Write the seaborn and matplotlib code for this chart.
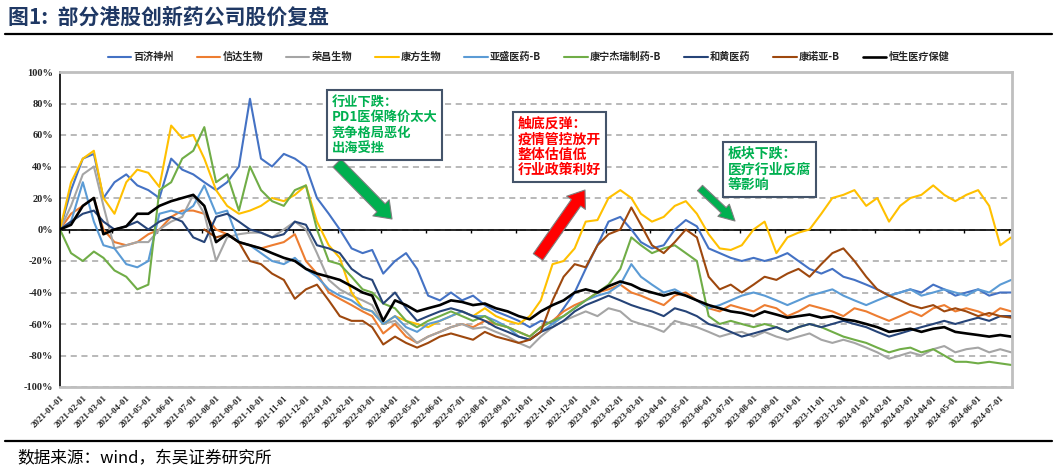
import numpy as np
import pandas as pd
import matplotlib
matplotlib.use('Agg')
import matplotlib.pyplot as plt
import matplotlib.dates as mdates
from matplotlib.ticker import FuncFormatter
import seaborn as sns

sns.set_style('white')
plt.rcParams['font.family'] = ['Noto Sans CJK SC', 'DejaVu Sans']

# 半月取点：每月1日、16日（2021-01 ~ 2024-07）
dates = [pd.Timestamp(2021 + m // 12, m % 12 + 1, d) for m in range(43) for d in (1, 16)]

names = ['百济神州', '信达生物', '荣昌生物', '康方生物', '亚盛医药-B',
         '康宁杰瑞制药-B', '和黄医药', '康诺亚-B', '恒生医疗保健']
colors = ['#4472C4', '#ED7D31', '#A5A5A5', '#FFC000', '#5B9BD5',
          '#70AD47', '#264478', '#9E480E', '#000000']

baiji = [0, 25, 45, 48, 20, 30, 35, 28, 25, 20,
         45, 38, 35, 30, 25, 30, 40, 83, 45, 40,
         48, 45, 40, 20, 10, 0, -12, -15, -13, -28,
         -20, -15, -25, -42, -45, -40, -45, -42, -48, -52,
         -55, -58, -62, -58, -60, -50, -40, -25, -10, 5,
         8, 0, -8, -12, -10, 0, 6, 2, -12, -15,
         -18, -20, -18, -20, -18, -15, -20, -25, -28, -25,
         -30, -32, -35, -38, -42, -40, -38, -40, -35, -38,
         -42, -40, -38, -42, -40, -40]
xinda = [0, 10, 15, 20, 0, -8, -10, -8, -3, 0,
         8, 12, 12, 10, 0, -3, -8, -10, -12, -10,
         -8, -3, -20, -28, -40, -44, -48, -52, -55, -66,
         -60, -68, -72, -68, -65, -62, -60, -62, -58, -60,
         -62, -65, -68, -62, -58, -52, -48, -45, -40, -38,
         -35, -40, -42, -45, -48, -42, -40, -45, -50, -52,
         -48, -50, -52, -48, -50, -55, -52, -48, -50, -52,
         -55, -50, -52, -55, -58, -55, -52, -55, -50, -48,
         -52, -50, -52, -55, -50, -52]
rongchang = [0, 15, 35, 40, 15, -12, -10, -8, -8, 0,
             5, 8, 22, 10, -20, -5, -3, -2, -2, -5,
             0, 5, 0, -15, -32, -38, -42, -45, -48, -60,
             -58, -65, -72, -68, -65, -62, -60, -63, -62, -65,
             -68, -72, -75, -68, -62, -58, -55, -52, -55, -50,
             -52, -58, -60, -62, -65, -58, -60, -62, -65, -68,
             -66, -65, -68, -65, -68, -70, -68, -66, -70, -72,
             -70, -72, -75, -78, -82, -80, -78, -80, -76, -74,
             -78, -76, -75, -78, -76, -78]
kangfang = [0, 30, 45, 50, 20, 10, 30, 38, 36, 27,
            66, 58, 60, 45, 25, 15, 10, 12, 15, 20,
            18, 22, 28, 5, -10, -18, -40, -50, -52, -60,
            -55, -58, -60, -62, -58, -55, -52, -55, -50, -55,
            -58, -60, -55, -45, -22, -20, -12, 5, 6, 20,
            25, 20, 10, 5, 8, 15, 18, 10, -3, -12,
            -13, -10, 0, 5, -15, -5, -2, 0, 10, 20,
            22, 25, 15, 20, 5, 15, 20, 22, 28, 22,
            18, 22, 25, 15, -10, -5]
yasheng = [0, 5, 30, 5, -10, -12, -22, -24, -20, 10,
           12, 10, 15, 28, 10, 12, -8, -10, -15, -20,
           -22, -18, -25, -30, -38, -42, -45, -50, -52, -60,
           -55, -62, -65, -60, -58, -55, -52, -55, -55, -58,
           -62, -68, -70, -65, -60, -55, -50, -45, -42, -40,
           -35, -22, -30, -35, -40, -38, -42, -45, -50, -48,
           -45, -42, -40, -42, -45, -48, -45, -42, -40, -38,
           -42, -45, -48, -45, -42, -40, -38, -42, -40, -38,
           -40, -42, -38, -40, -35, -32]
kangning = [0, -15, -20, -14, -18, -26, -30, -38, -35, 25,
            30, 45, 50, 65, 30, 35, 12, 40, 25, 18,
            15, 25, 28, 0, -20, -22, -30, -38, -40, -47,
            -50, -58, -62, -58, -55, -52, -55, -58, -55, -60,
            -62, -65, -68, -62, -58, -55, -50, -45, -40, -35,
            -25, -5, -10, -15, -12, -10, -15, -20, -55, -60,
            -58, -60, -62, -60, -62, -65, -62, -60, -62, -65,
            -68, -70, -72, -75, -78, -76, -75, -78, -76, -80,
            -84, -84, -85, -84, -85, -86]
hehuang = [0, 5, 10, 12, 5, 0, 2, 5, 0, 5,
           8, 5, -5, -8, 8, 10, 5, 0, -2, -5,
           -3, 5, 3, -10, -12, -15, -25, -30, -32, -47,
           -40, -50, -58, -55, -52, -50, -52, -55, -58, -62,
           -65, -68, -70, -65, -62, -58, -52, -48, -45, -42,
           -45, -48, -50, -52, -55, -50, -52, -55, -60, -62,
           -65, -68, -66, -64, -62, -65, -62, -60, -62, -60,
           -58, -60, -62, -65, -68, -66, -64, -62, -60, -58,
           -60, -58, -56, -58, -55, -55]
kangnuoya = [np.nan] * 13 + [
             0, -5, -3, -8, -20, -22, -28,
             -32, -44, -38, -35, -45, -55, -58, -58, -62, -73,
             -68, -72, -75, -72, -68, -66, -68, -70, -65, -68,
             -70, -72, -70, -65, -45, -30, -22, -24, -10, -3,
             0, 14, 3, -10, -15, -8, 0, -5, -30, -38,
             -35, -40, -35, -30, -32, -28, -25, -30, -22, -15,
             -12, -20, -30, -38, -42, -45, -48, -50, -48, -52,
             -50, -52, -55, -53, -55, -56]
hengsheng = [0, 3, 15, 20, -3, 0, 2, 10, 10, 15,
             18, 20, 22, 15, -8, -3, -8, -10, -12, -15,
             -18, -20, -25, -28, -30, -32, -36, -40, -42, -58,
             -45, -48, -52, -50, -48, -45, -46, -48, -47, -50,
             -52, -55, -57, -52, -48, -45, -40, -38, -40, -36,
             -33, -35, -38, -40, -42, -40, -42, -45, -48, -50,
             -52, -53, -55, -52, -54, -56, -55, -54, -56, -55,
             -57, -58, -60, -62, -65, -64, -63, -65, -63, -62,
             -65, -66, -67, -68, -67, -68]

series = [baiji, xinda, rongchang, kangfang, yasheng,
          kangning, hehuang, kangnuoya, hengsheng]

W, H = 1057, 474
fig = plt.figure(figsize=(W / 100, H / 100), dpi=100)
ax = fig.add_axes([60 / W, 1 - 387 / H, (1012 - 60) / W, (387 - 72) / H])

for name, vals, c in zip(names, series, colors):
    lw = 1.9 if name == '恒生医疗保健' else 1.5
    sns.lineplot(x=dates, y=vals, ax=ax, color=c, lw=lw, label=name)
if ax.get_legend() is not None:
    ax.get_legend().remove()

ax.set_ylim(-100, 100)
ax.set_yticks(range(-100, 101, 20))
ax.yaxis.set_major_formatter(FuncFormatter(lambda v, p: f'{v:.0f}%'))
ax.set_xlim(pd.Timestamp('2021-01-01'), pd.Timestamp('2024-07-17'))
ax.xaxis.set_major_locator(mdates.MonthLocator())
ax.xaxis.set_major_formatter(mdates.DateFormatter('%Y-%m-%d'))
ax.set_xlabel('')
ax.set_ylabel('')

ax.grid(True, axis='y', color='#A6A6A6', linestyle=(0, (4, 3)), linewidth=1.1)
ax.set_axisbelow(True)
ax.axhline(0, color='black', lw=1.2, zorder=1.5)

for s in ['top', 'bottom', 'right']:
    ax.spines[s].set_color('#BFBFBF')
    ax.spines[s].set_linewidth(2)
ax.spines['left'].set_color('black')
ax.spines['left'].set_linewidth(1.2)

ax.tick_params(axis='x', length=0, pad=5)
ax.tick_params(axis='y', length=3, direction='out', width=1, pad=2)
for lab in ax.get_xticklabels():
    lab.set_rotation(45)
    lab.set_ha('right')
    lab.set_rotation_mode('anchor')
    lab.set_family(['Liberation Serif'])
    lab.set_weight('bold')
    lab.set_size(6.5)
for lab in ax.get_yticklabels():
    lab.set_family(['Liberation Serif'])
    lab.set_weight('bold')
    lab.set_size(7.5)

# 0%线上的刻度
sec = ax.secondary_xaxis(0.5)
sec.set_xticks([pd.Timestamp(2021 + m // 12, m % 12 + 1, 13) for m in range(0, 43, 2)])
sec.tick_params(direction='in', length=3, width=1, labeltop=False, labelbottom=False, color='black')
for s in sec.spines.values():
    s.set_visible(False)

# 图例
handles, labels = ax.get_legend_handles_labels()
fig.legend(handles, labels, loc='center', bbox_to_anchor=(0.5, 1 - 57 / H), ncol=9,
           frameon=False, handlelength=2.3, handletextpad=0.2, columnspacing=2.3,
           prop={'size': 7.3, 'weight': 'bold', 'family': ['Noto Sans CJK SC', 'DejaVu Sans']})

# 标题与来源
fig.text(8 / W, 1 - 17 / H, '图1:  部分港股创新药公司股价复盘', fontsize=15, fontweight='bold',
         color='#1F3864', va='center', ha='left')
fig.add_artist(plt.Line2D([5 / W, 1 - 5 / W], [1 - 34 / H] * 2, color='black', lw=1.6,
                          transform=fig.transFigure))
fig.add_artist(plt.Line2D([5 / W, 1 - 5 / W], [1 - 441 / H] * 2, color='black', lw=1.6,
                          transform=fig.transFigure))
fig.text(17 / W, 1 - 459 / H, '数据来源：wind，东吴证券研究所', fontsize=12,
         color='black', va='center', ha='left')

# 注释框
box = dict(boxstyle='square,pad=0.35', fc='white', ec='#44546A', lw=1.5)
fig.text(332 / W, 1 - 95 / H, '行业下跌：\nPD1医保降价太大\n竞争格局恶化\n出海受挫',
         fontsize=9.5, fontweight='bold', color='#00B050', va='top', ha='left',
         linespacing=1.12, bbox=box)
fig.text(518 / W, 1 - 117 / H, '触底反弹：\n疫情管控放开\n整体估值低\n行业政策利好',
         fontsize=10, fontweight='bold', color='#FF0000', va='top', ha='left',
         linespacing=1.12, bbox=box)
fig.text(728 / W, 1 - 147 / H, '板块下跌：\n医疗行业反腐\n等影响',
         fontsize=10, fontweight='bold', color='#00B050', va='top', ha='left',
         linespacing=1.12, bbox=box)

# 箭头
def arrow(tail, head, fc, hw, tw):
    ax.annotate('', xy=(head[0], H - head[1]), xytext=(tail[0], H - tail[1]),
                xycoords='figure pixels', textcoords='figure pixels',
                arrowprops=dict(arrowstyle=f'simple,head_width={hw},head_length=0.75,tail_width={tw}',
                                fc=fc, ec='#7F7F7F', lw=0.8, mutation_scale=15,
                                shrinkA=0, shrinkB=0))

arrow((337, 163), (392, 219), '#00B050', 1.1, 0.55)
arrow((538, 257), (585, 190), '#FF0000', 1.1, 0.55)
arrow((700, 188), (735, 221), '#00B050', 0.8, 0.35)

fig.savefig('out.png', dpi=100)
